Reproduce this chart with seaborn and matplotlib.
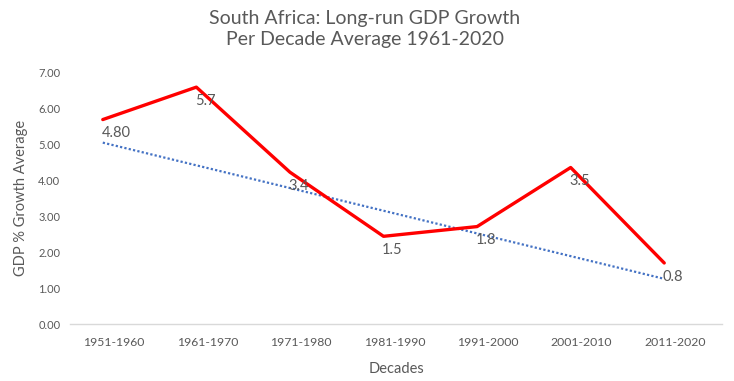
import matplotlib
matplotlib.use("Agg")
import matplotlib.pyplot as plt
from matplotlib.transforms import ScaledTranslation
import seaborn as sns
import pandas as pd

decades = ["1951-1960", "1961-1970", "1971-1980", "1981-1990",
           "1991-2000", "2001-2010", "2011-2020"]
growth = [5.68, 6.58, 4.22, 2.44, 2.71, 4.35, 1.70]
labels = ["4.80", "5.7", "3.4", "1.5", "1.8", "3.5", "0.8"]
trend = [5.04, 4.41, 3.78, 3.15, 2.52, 1.89, 1.26]
yticks = [0, 1, 2, 3, 4, 5, 6, 7]

sns.set_theme(style="white")
plt.rcParams['font.family'] = ['Lato', 'DejaVu Sans']

df = pd.DataFrame({"pos": range(len(decades)), "growth": growth, "trend": trend})

fig = plt.figure(figsize=(7.34, 3.81), dpi=100)
ax = fig.add_axes([0.0954, 0.149, 0.984 - 0.0954, 0.811 - 0.149])

sns.lineplot(data=df, x="pos", y="trend", ax=ax, color="#4472C4",
             linestyle=(0, (1, 1)), linewidth=1.6)
sns.lineplot(data=df, x="pos", y="growth", ax=ax, color="#FF0000",
             linewidth=2.4)

gray = "#595959"
for i, (v, lab) in enumerate(zip(growth, labels)):
    ax.annotate(lab, (i, v), xytext=(-1, -10), textcoords="offset points",
                ha="left", va="center", fontsize=10.5, color=gray)

ax.set_xlim(-0.35, 6.62)
ax.set_ylim(0, 7)
ax.set_xticks(range(len(decades)))
ax.set_xticklabels(decades)
ax.set_yticks(yticks)
ax.set_yticklabels([f"{t:.2f}" for t in yticks])
ax.tick_params(axis="x", labelsize=8.8, colors=gray, length=0, pad=9)
ax.tick_params(axis="y", labelsize=8, colors=gray, length=0, pad=7)
for lab in ax.get_xticklabels():
    lab.set_transform(lab.get_transform() + ScaledTranslation(11 / 100, 0, fig.dpi_scale_trans))

for s in ["top", "right", "left"]:
    ax.spines[s].set_visible(False)
ax.spines["bottom"].set_color("#D9D9D9")
ax.spines["bottom"].set_linewidth(1)

ax.set_xlabel("Decades", fontsize=10.5, color=gray, labelpad=10)
ax.set_ylabel("GDP % Growth Average", fontsize=10.5, color=gray, labelpad=7)

fig.text(0.497, 0.975, "South Africa: Long-run GDP Growth\nPer Decade Average 1961-2020",
         ha="center", va="top", fontsize=14, color=gray, linespacing=1.3)

fig.savefig("out.png", dpi=100)
